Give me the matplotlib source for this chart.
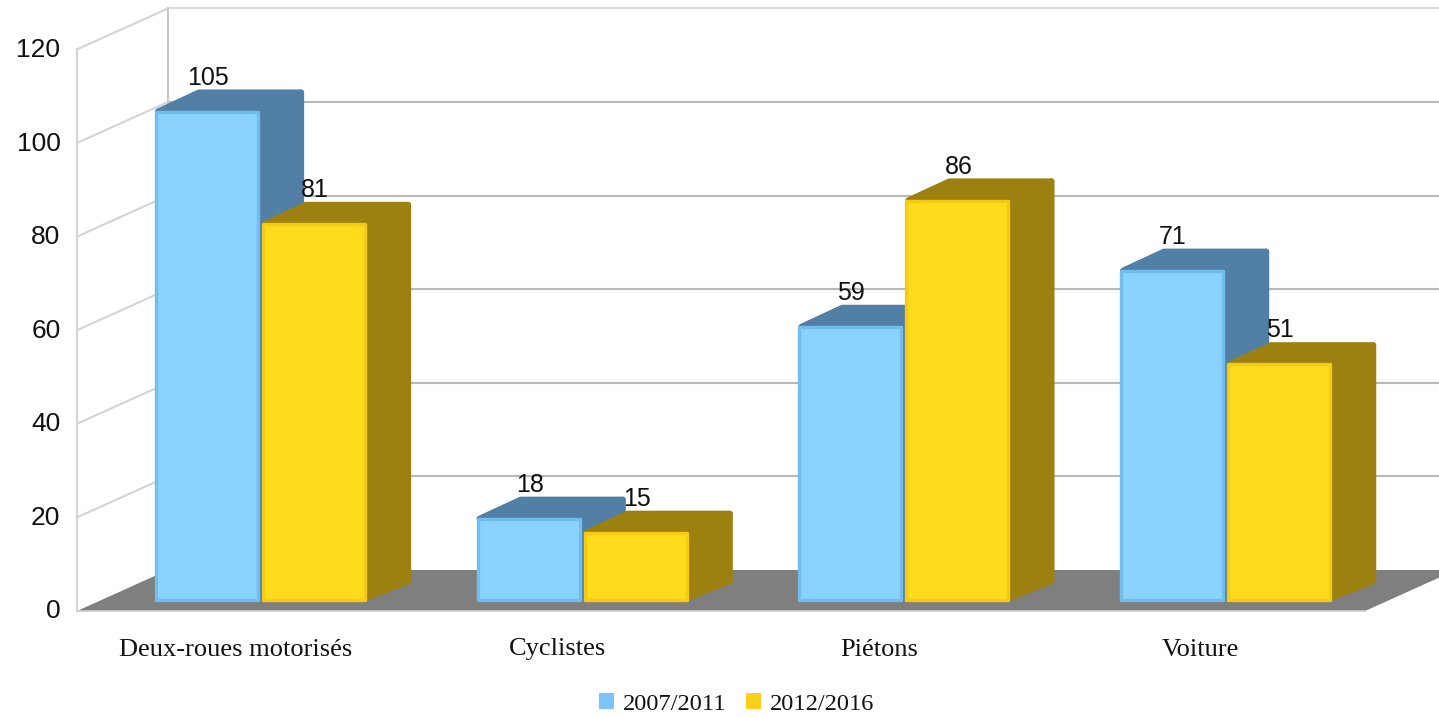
import matplotlib
matplotlib.use("Agg")
import matplotlib.pyplot as plt
from matplotlib.patches import Polygon, Patch

categories = ["Deux-roues motorisés", "Cyclistes", "Piétons", "Voiture"]
series_names = ["2007/2011", "2012/2016"]
values_2007 = [105, 18, 59, 71]
values_2012 = [81, 15, 86, 51]
y_ticks = [0, 20, 40, 60, 80, 100, 120]

W, H, DPI = 1439, 717, 100
PX_X, PX_Y = 321.7, 4.68          # pixels per category / per value
X0_PX, Y0_PX = 260.5, 603         # where category 0 / value 0 fall in the bar plane


def dx(px):
    return px / PX_X


def dy(px):
    return px / PX_Y


fig = plt.figure(figsize=(W / DPI, H / DPI), dpi=DPI, facecolor="white")
ax = fig.add_axes([0, 0, 1, 1])
ax.set_xlim(-X0_PX / PX_X, (W - X0_PX) / PX_X)
ax.set_ylim(-(H - Y0_PX) / PX_Y, Y0_PX / PX_Y)
ax.axis("off")

# chart box: front plane sits 18 px left and 8 px below the bars, back plane 73 px right and 33 px above
ymax = max(y_ticks)
fx0, fy = -dx(X0_PX - 77), -dy(8)
bx0, by = -dx(X0_PX - 168), dy(33)
fx1 = dx(1365 - X0_PX)
bx1 = fx1 + (bx0 - fx0)

ax.add_patch(Polygon([(fx0, fy), (fx1, fy), (bx1, by), (bx0, by)], closed=True,
                     fc="#7f7f7f", ec="none", zorder=2))
ax.plot([fx0, fx1], [fy, fy], color="#d0d0d0", lw=1.2, zorder=2)
for t in y_ticks[1:]:
    top = t == ymax
    col = "#dddddd" if top else "#b8b8b8"
    ax.plot([bx0, bx1], [by + t, by + t], color=col, lw=1.5, zorder=1)
    ax.plot([fx0, bx0], [fy + t, by + t], color="#d4d4d4", lw=1.5, zorder=1)
ax.plot([fx0, fx0], [fy, fy + ymax], color="#d4d4d4", lw=1.5, zorder=1)
ax.plot([bx0, bx0], [by, by + ymax], color="#c8c8c8", lw=1.5, zorder=1)

for t in y_ticks:
    ax.annotate(str(t), xy=(fx0, fy + t), xytext=(-16.5 * 0.72, -0.5 * 0.72), textcoords="offset points",
                ha="right", va="center", fontsize=19, family="Liberation Sans",
                color="#111111", zorder=8)

# bars
bar_w = dx(102)
offset = dx(53.5)
depth_x, depth_y = dx(43), dy(19)
base = dy(3)
styles = [
    dict(front="#8ad3ff", edge="#72bdee", top="#517fa6", side="#517fa6"),
    dict(front="#ffdb1c", edge="#f4ca14", top="#9c8010", side="#9c8010"),
]
z = 3
for i, cat in enumerate(categories):
    for j, vals in enumerate([values_2007, values_2012]):
        v = vals[i]
        st = styles[j]
        cx = i + (-offset if j == 0 else offset)
        l, r = cx - bar_w / 2, cx + bar_w / 2
        ax.add_patch(Polygon([(l + dx(2), v), (r, v), (r + depth_x, v + depth_y), (l + depth_x, v + depth_y)],
                             closed=True, fc=st["top"], ec=st["top"], lw=4.5, joinstyle="round", zorder=z))
        ax.add_patch(Polygon([(r, base + dy(2)), (r + depth_x, base + depth_y), (r + depth_x, v + depth_y), (r, v)],
                             closed=True, fc=st["side"], ec=st["side"], lw=4.5, joinstyle="round", zorder=z))
        ax.bar(cx, v - base, bottom=base, width=bar_w, color=st["front"], edgecolor=st["edge"],
               linewidth=2.4, joinstyle="round", zorder=z + 0.5)
        ax.annotate(str(v), xy=(cx, v), xytext=(1 * 0.72, 34 * 0.72), textcoords="offset points",
                    ha="center", va="center", fontsize=18, family="Liberation Sans",
                    color="#111111", zorder=9)
        z += 1

# category labels
for i, cat in enumerate(categories):
    ax.annotate(cat, xy=(i - dx(25), fy), xytext=(0, -38.5 * 0.72), textcoords="offset points",
                ha="center", va="center", fontsize=19, family="Liberation Serif", color="#111111")

handles = [Patch(fc="#7cc4fb", ec="none"), Patch(fc="#ffcf1a", ec="none")]
fig.legend(handles, series_names, loc="center", bbox_to_anchor=(736.5 / W, 1 - 704 / H), ncol=2, frameon=False,
           prop=dict(family="Liberation Serif", size=17.6), handlelength=0.62, handleheight=0.62,
           handletextpad=0.37, columnspacing=0.8, labelcolor="#111111",
           borderpad=0, borderaxespad=0)

fig.savefig("out.png", dpi=DPI, facecolor="white")
